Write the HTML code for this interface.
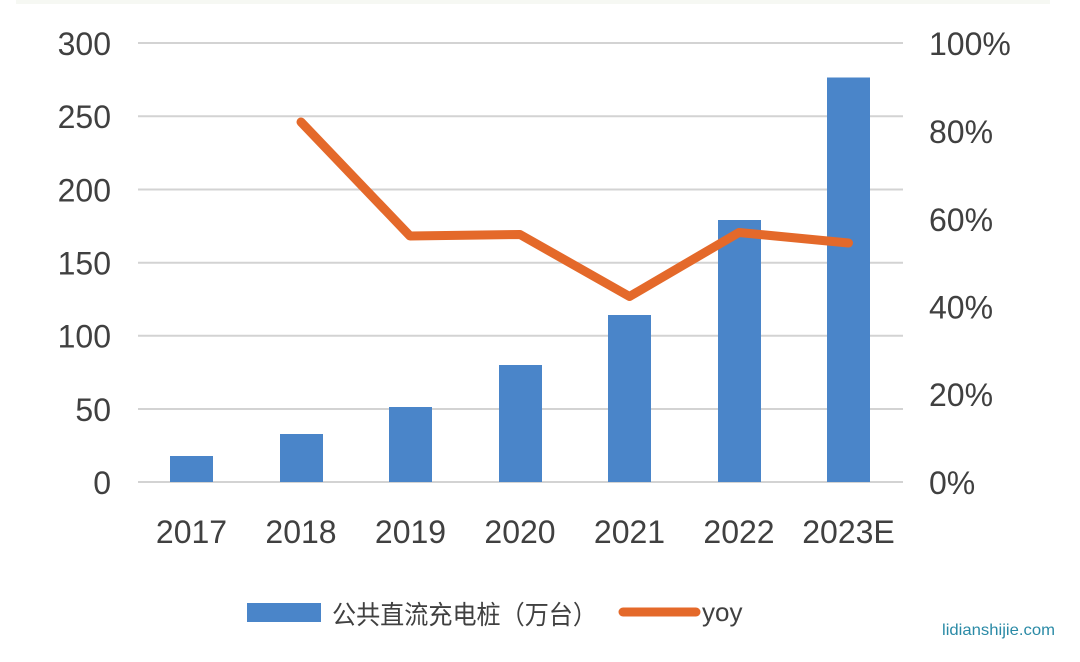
<!DOCTYPE html>
<html>
<head>
<meta charset="utf-8">
<style>
html,body{margin:0;padding:0;background:#fff;}
svg{display:block;}
</style>
</head>
<body>
<svg width="1080" height="662" viewBox="0 0 1080 662" xmlns="http://www.w3.org/2000/svg">
  <rect x="0" y="0" width="1080" height="662" fill="#ffffff"/>
  <rect x="16" y="0" width="1034" height="4" fill="#f6f8f3"/>
  <!-- gridlines -->
  <g stroke="#d3d3d3" stroke-width="2">
    <line x1="138" y1="43" x2="903" y2="43"/>
    <line x1="138" y1="116.2" x2="903" y2="116.2"/>
    <line x1="138" y1="189.5" x2="903" y2="189.5"/>
    <line x1="138" y1="262.7" x2="903" y2="262.7"/>
    <line x1="138" y1="335.8" x2="903" y2="335.8"/>
    <line x1="138" y1="409" x2="903" y2="409"/>
    <line x1="138" y1="482" x2="903" y2="482"/>
  </g>
  <!-- bars -->
  <g fill="#4a85c9">
    <rect x="170" y="456" width="43" height="26"/>
    <rect x="280" y="434" width="43" height="48"/>
    <rect x="389" y="407" width="43" height="75"/>
    <rect x="499" y="365" width="43" height="117"/>
    <rect x="608" y="315" width="43" height="167"/>
    <rect x="718" y="220" width="43" height="262"/>
    <rect x="827" y="77.5" width="43" height="404.5"/>
  </g>
  <!-- line -->
  <polyline points="301,122 410,236 520,234.5 629.5,296.5 739,232.5 848.5,243" fill="none" stroke="#e4692a" stroke-width="9" stroke-linejoin="round" stroke-linecap="round"/>
  <!-- left axis labels -->
  <g font-family="Liberation Sans, sans-serif" font-size="32" fill="#404040" text-anchor="end">
    <text x="111" y="55">300</text>
    <text x="111" y="128">250</text>
    <text x="111" y="201.5">200</text>
    <text x="111" y="274.5">150</text>
    <text x="111" y="347.5">100</text>
    <text x="111" y="421">50</text>
    <text x="111" y="494">0</text>
  </g>
  <!-- right axis labels -->
  <g font-family="Liberation Sans, sans-serif" font-size="32" fill="#404040" text-anchor="start">
    <text x="929" y="55">100%</text>
    <text x="929" y="143">80%</text>
    <text x="929" y="231">60%</text>
    <text x="929" y="318.5">40%</text>
    <text x="929" y="406">20%</text>
    <text x="929" y="494">0%</text>
  </g>
  <!-- x labels -->
  <g font-family="Liberation Sans, sans-serif" font-size="32" fill="#404040" text-anchor="middle">
    <text x="191.5" y="543">2017</text>
    <text x="301" y="543">2018</text>
    <text x="410.5" y="543">2019</text>
    <text x="520" y="543">2020</text>
    <text x="629.5" y="543">2021</text>
    <text x="739" y="543">2022</text>
    <text x="848.5" y="543">2023E</text>
  </g>
  <!-- legend -->
  <rect x="247" y="603" width="74" height="19" fill="#4a85c9"/>
  <text x="332" y="624" font-family="Liberation Sans, 'Noto Sans CJK SC', sans-serif" font-size="26" fill="#404040" textLength="265" lengthAdjust="spacingAndGlyphs">公共直流充电桩（万台）</text>
  <line x1="623" y1="612" x2="696" y2="612" stroke="#e4692a" stroke-width="9" stroke-linecap="round"/>
  <text x="702" y="621" font-family="Liberation Sans, sans-serif" font-size="26" fill="#404040">yoy</text>
  <!-- watermark -->
  <text x="942" y="635" font-family="Liberation Sans, sans-serif" font-size="16" fill="#2a8aa6" textLength="113" lengthAdjust="spacingAndGlyphs">lidianshijie.com</text>
</svg>
</body>
</html>
